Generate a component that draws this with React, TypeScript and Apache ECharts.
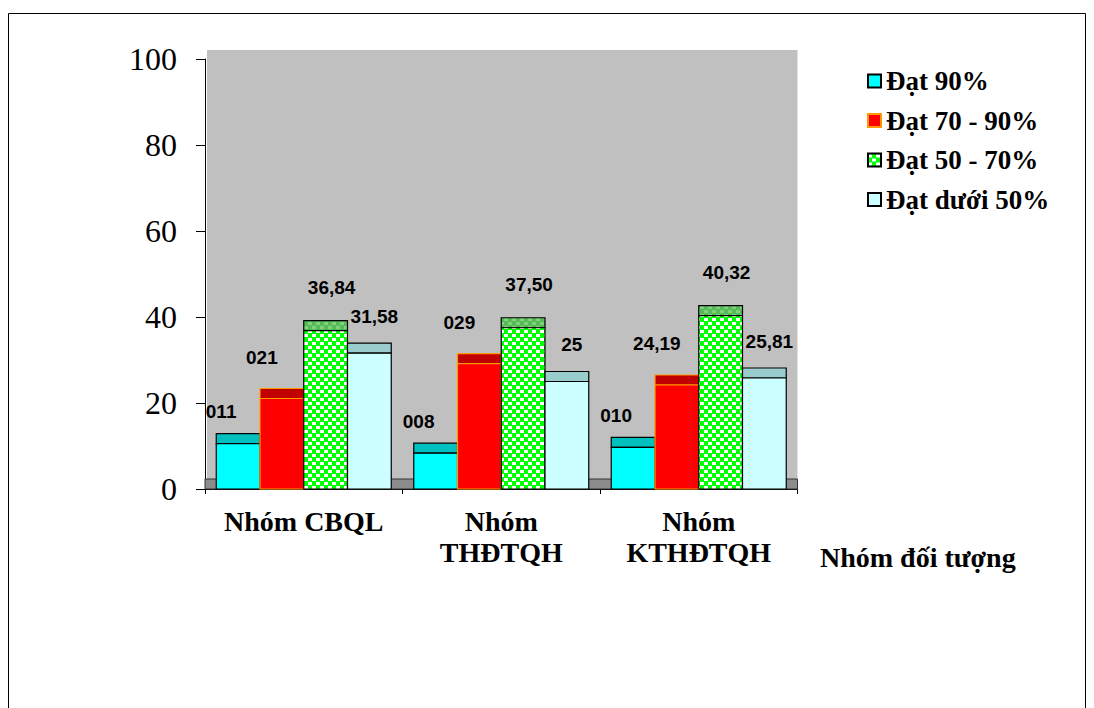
import React, { useEffect, useRef } from 'react';
import * as echarts from 'echarts';

// ---- data ----
const categories = ['Nhóm CBQL', 'Nhóm\nTHĐTQH', 'Nhóm\nKTHĐTQH'];
const seriesNames = ['Đạt 90%', 'Đạt 70 - 90%', 'Đạt 50 - 70%', 'Đạt dưới 50%'];
const dat90 = [10.53, 8.33, 9.68];
const dat70to90 = [21.05, 29.17, 24.19];
const dat50to70 = [36.84, 37.5, 40.32];
const datUnder50 = [31.58, 25, 25.81];
const labels90 = ['011', '008', '010'];
const labels70to90 = ['021', '029', '24,19'];
const labels50to70 = ['36,84', '37,50', '40,32'];
const labelsUnder50 = ['31,58', '25', '25,81'];
const yMin = 0;
const yMax = 100;
const yInterval = 20;
const xAxisName = 'Nhóm đối tượng';

const SERIF = '"Liberation Serif", "Times New Roman", serif';
const SANS = '"Liberation Sans", Arial, sans-serif';
const DEPTH = 10;
const GAP = 0.114;

function makePattern(bg: string, fg: string) {
  const c = document.createElement('canvas');
  c.width = 8;
  c.height = 8;
  const ctx = c.getContext('2d')!;
  ctx.fillStyle = bg;
  ctx.fillRect(0, 0, 8, 8);
  ctx.fillStyle = fg;
  ctx.fillRect(0, 1, 4, 3);
  ctx.fillRect(4, 5, 4, 3);
  return c;
}

export default function App() {
  const ref = useRef<HTMLDivElement>(null);

  useEffect(() => {
    if (!ref.current) return;
    const chart = echarts.init(ref.current, undefined, { renderer: 'svg' });

    const greenPat = { image: makePattern('#00FF00', '#FFFFFF'), repeat: 'repeat' };
    const greenCapPat = { image: makePattern('#55BB55', '#80D080'), repeat: 'repeat' };

    const values = [dat90, dat70to90, dat50to70, datUnder50];
    const labels = [labels90, labels70to90, labels50to70, labelsUnder50];
    const styles: any[] = [
      { fill: '#00FFFF', cap: '#00C0C0', stroke: '#000000', lw: 1.2, dx: -17, dy: 22 },
      { fill: '#FF0000', cap: '#C00000', stroke: '#FF9900', lw: 1.2, dx: -20, dy: 31 },
      { fill: greenPat, cap: greenCapPat, stroke: '#000000', lw: 1.2, dx: 6, dy: 33 },
      { fill: '#CCFFFF', cap: '#99CCCC', stroke: '#000000', lw: 1.2, dx: 5, dy: 27 },
    ];

    const makeRender = (si: number) => (params: any, api: any) => {
      const cat = api.value(0);
      const v = api.value(1);
      const base = api.coord([cat, 0]);
      const top = api.coord([cat, v]);
      const band = api.size([1, 0])[0];
      const groupW = band * (1 - GAP);
      const bw = groupW / 4;
      const x = base[0] - groupW / 2 + si * bw;
      const st = styles[si];
      const lab = labels[si][params.dataIndex];
      return {
        type: 'group',
        children: [
          {
            type: 'rect',
            shape: { x, y: top[1] - DEPTH, width: bw, height: DEPTH },
            style: { fill: st.cap, stroke: st.stroke, lineWidth: st.lw },
          },
          {
            type: 'rect',
            shape: { x, y: top[1], width: bw, height: base[1] - top[1] },
            style: { fill: st.fill, stroke: st.stroke, lineWidth: st.lw },
          },
          {
            type: 'text',
            x: x + bw / 2 + st.dx,
            y: top[1] - DEPTH - st.dy,
            style: {
              text: lab,
              fill: '#000',
              font: `bold 19px ${SANS}`,
              align: 'center',
              verticalAlign: 'middle',
            },
          },
        ],
      };
    };

    const barSeries = values.map((arr, si) => ({
      type: 'custom',
      name: seriesNames[si],
      z: 3,
      data: arr.map((v, i) => [i, v]),
      encode: { x: 0, y: 1 },
      itemStyle: {
        color: styles[si].fill,
        borderColor: styles[si].stroke,
        borderWidth: 2,
      },
      renderItem: makeRender(si),
    }));

    const wallSeries = {
      type: 'custom',
      silent: true,
      z: 1,
      data: [[0, 0]],
      encode: { x: 0, y: 1 },
      renderItem: (params: any) => {
        const cs = params.coordSys;
        return {
          type: 'group',
          children: [
            {
              type: 'rect',
              shape: { x: cs.x + 2, y: cs.y - DEPTH + 1, width: cs.width - 2, height: cs.height },
              style: { fill: '#C0C0C0' },
            },
            {
              type: 'rect',
              shape: { x: cs.x, y: cs.y + cs.height - DEPTH, width: cs.width, height: DEPTH },
              style: { fill: '#8C8C8C', stroke: '#333333', lineWidth: 1 },
            },
          ],
        };
      },
    };

    chart.setOption({
      animation: false,
      backgroundColor: '#FFFFFF',
      grid: { left: 197, top: 46, right: 288.5, bottom: 219, containLabel: false },
      graphic: [
        {
          type: 'rect',
          silent: true,
          shape: { x: 0.5, y: 0.5, width: 1077, height: 720 },
          style: { fill: 'none', stroke: '#000', lineWidth: 1 },
          z: 0,
        },
        {
          type: 'text',
          silent: true,
          x: 812,
          y: 544,
          style: {
            text: xAxisName,
            fill: '#000',
            font: `bold 28px ${SERIF}`,
            align: 'left',
            verticalAlign: 'middle',
          },
        },
      ],
      legend: {
        orient: 'vertical',
        left: 859,
        top: 53,
        padding: 0,
        itemWidth: 13,
        itemHeight: 13,
        itemGap: 9.5,
        icon: 'rect',
        selectedMode: false,
        textStyle: {
          fontFamily: SERIF,
          fontWeight: 'bold',
          fontSize: 27,
          lineHeight: 30,
          color: '#000',
        },
        data: seriesNames.map((n, i) => ({
          name: n,
          itemStyle: {
            color: styles[i].fill,
            borderColor: i === 1 ? '#FF9900' : '#000000',
            borderWidth: 2,
          },
        })),
      },
      xAxis: {
        type: 'category',
        data: categories,
        axisLine: { show: true, lineStyle: { color: '#000', width: 1 } },
        axisTick: { show: true, alignWithLabel: false, length: 5, lineStyle: { color: '#000' } },
        axisLabel: {
          fontFamily: SERIF,
          fontWeight: 'bold',
          fontSize: 28,
          lineHeight: 31,
          color: '#000',
          margin: 17,
          interval: 0,
        },
        splitLine: { show: false },
      },
      yAxis: {
        type: 'value',
        min: yMin,
        max: yMax,
        interval: yInterval,
        axisLine: { show: true, lineStyle: { color: '#000', width: 1 } },
        axisTick: { show: true, inside: false, length: 9, lineStyle: { color: '#000' } },
        axisLabel: {
          fontFamily: SERIF,
          fontSize: 32,
          color: '#000',
          margin: 28,
        },
        splitLine: { show: false },
      },
      series: [wallSeries, ...barSeries],
    });

    return () => {
      chart.dispose();
    };
  }, []);

  return (
    <div
      ref={ref}
      style={{ position: 'absolute', left: 8, top: 13, width: 1078, height: 695 }}
    />
  );
}
